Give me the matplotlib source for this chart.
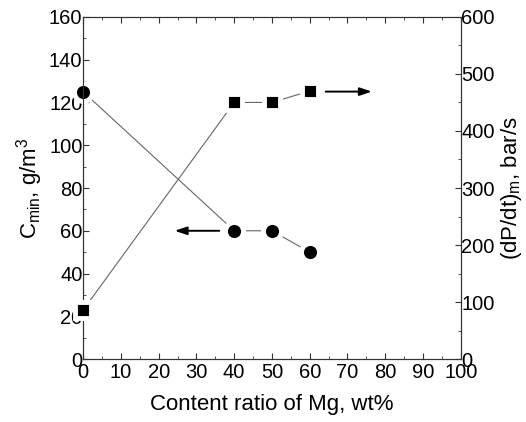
import matplotlib
matplotlib.use("Agg")
import matplotlib.pyplot as plt
from matplotlib.ticker import MultipleLocator

plt.rcParams['font.family'] = ['Liberation Sans', 'DejaVu Sans']

mg_content = [0, 40, 50, 60]
c_min = [125, 60, 60, 50]
dpdt_max = [86, 450, 450, 470]

fig = plt.figure(figsize=(5.26, 4.22), dpi=100)
ax = fig.add_axes([0.158, 0.149, 0.718, 0.811])
ax2 = ax.twinx()

ax.plot(mg_content, c_min, color='#666666', lw=0.8, marker='o', ms=13,
        mfc='black', mec='white', mew=3.5, zorder=3, clip_on=False)
ax2.plot(mg_content, dpdt_max, color='#666666', lw=0.8, marker='s', ms=11.5,
         mfc='black', mec='white', mew=3.5, zorder=3, clip_on=False)

ax.annotate('', xy=(23.5, 60), xytext=(36.8, 60),
            arrowprops=dict(arrowstyle='-|>,head_length=0.6,head_width=0.2', color='black', lw=1.4, mutation_scale=12))
ax2.annotate('', xy=(77.2, 469), xytext=(63.5, 469),
             arrowprops=dict(arrowstyle='-|>,head_length=0.6,head_width=0.2', color='black', lw=1.4, mutation_scale=12))

ax.set_xlim(0, 100)
ax.set_ylim(0, 160)
ax2.set_ylim(0, 600)
ax.xaxis.set_major_locator(MultipleLocator(10))
ax.xaxis.set_minor_locator(MultipleLocator(5))
ax.yaxis.set_major_locator(MultipleLocator(20))
ax.yaxis.set_minor_locator(MultipleLocator(10))
ax2.yaxis.set_major_locator(MultipleLocator(100))
ax2.yaxis.set_minor_locator(MultipleLocator(50))

for a in (ax, ax2):
    for s in a.spines.values():
        s.set_color('#333333')
        s.set_linewidth(0.8)

fs = 14.5
ax.tick_params(axis='x', which='both', direction='in', top=True, labelsize=fs, pad=2.5, color='#333333')
ax.tick_params(axis='y', which='both', direction='in', right=False, labelsize=fs, pad=0.5, color='#333333')
ax.tick_params(which='major', length=4)
ax.tick_params(which='minor', length=2.5)
ax2.tick_params(axis='y', which='both', direction='in', labelsize=fs, pad=0.5, color='#333333')
ax2.tick_params(which='major', length=4)
ax2.tick_params(which='minor', length=2.5)

lfs = 16
ax.set_xlabel('Content ratio of Mg, wt%', fontsize=lfs, labelpad=9)
ax.set_ylabel(r'C$_{\mathregular{min}}$, g/m$^{\mathregular{3}}$', fontsize=lfs, labelpad=3)
ax2.set_ylabel(r'(dP/dt)$_{\mathregular{m}}$, bar/s', fontsize=lfs, labelpad=3)

fig.savefig('out.png', dpi=100)
